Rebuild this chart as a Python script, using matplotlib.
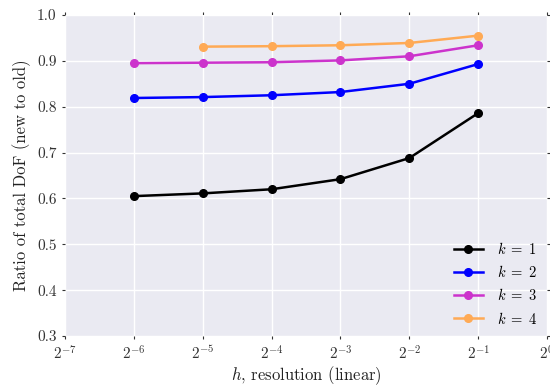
import matplotlib
matplotlib.use("Agg")
import matplotlib.pyplot as plt
import numpy as np

x_exp = [-6, -5, -4, -3, -2, -1]
k1 = [0.605, 0.611, 0.620, 0.642, 0.688, 0.786]
k2 = [0.819, 0.821, 0.825, 0.832, 0.850, 0.893]
k3 = [0.895, 0.896, 0.897, 0.901, 0.910, 0.934]
k4_exp = [-5, -4, -3, -2, -1]
k4 = [0.931, 0.932, 0.934, 0.939, 0.955]
labels = [r"$k\;=\;1$", r"$k\;=\;2$", r"$k\;=\;3$", r"$k\;=\;4$"]
colors = ["#000000", "#0000ff", "#cc33cc", "#ffaa55"]
xtick_exp = [-7, -6, -5, -4, -3, -2, -1, 0]

plt.rcParams.update({
    "font.family": "serif",
    "font.serif": ["cmr10", "DejaVu Serif"],
    "mathtext.fontset": "cm",
    "axes.formatter.use_mathtext": True,
    "axes.unicode_minus": False,
})

fig = plt.figure(figsize=(5.5, 3.86), dpi=100)
ax = fig.add_axes([65/550, 1-336/386, (547-65)/550, (336-15)/386])
ax.set_facecolor("#eaeaf2")
for s in ax.spines.values():
    s.set_visible(False)
ax.grid(True, color="white", linewidth=1.0)
ax.set_axisbelow(True)

series = [(x_exp, k1), (x_exp, k2), (x_exp, k3), (k4_exp, k4)]
for (xe, ys), lab, c in zip(series, labels, colors):
    ax.plot([2.0**e for e in xe], ys, "-o", color=c, lw=1.8, ms=5.5, label=lab)

ax.set_xscale("log", base=2)
ax.set_xlim(2.0**-7, 2.0**0)
ax.set_ylim(0.3, 1.0)
ax.set_xticks([2.0**e for e in xtick_exp])
ax.set_xticklabels([r"$2^{%d}$" % e for e in xtick_exp])
ax.xaxis.set_minor_locator(matplotlib.ticker.NullLocator())
ax.set_yticks(np.arange(0.3, 1.01, 0.1))
ax.set_yticklabels(["%.1f" % v for v in np.arange(0.3, 1.01, 0.1)])
ax.tick_params(which="major", direction="out", length=2, width=0.8, color="#333333",
               top=True, right=True, labelsize=11, labelcolor="#333333", pad=4)
ax.set_xlabel(r"$h$, resolution (linear)", fontsize=12, color="#222222", labelpad=1)
ax.set_ylabel("Ratio of total DoF (new to old)", fontsize=12, color="#222222")

leg = ax.legend(loc="lower right", frameon=False, fontsize=10.5, handlelength=2.0,
                borderaxespad=0.25, handletextpad=1.0)
fig.savefig("out.png", dpi=100)
